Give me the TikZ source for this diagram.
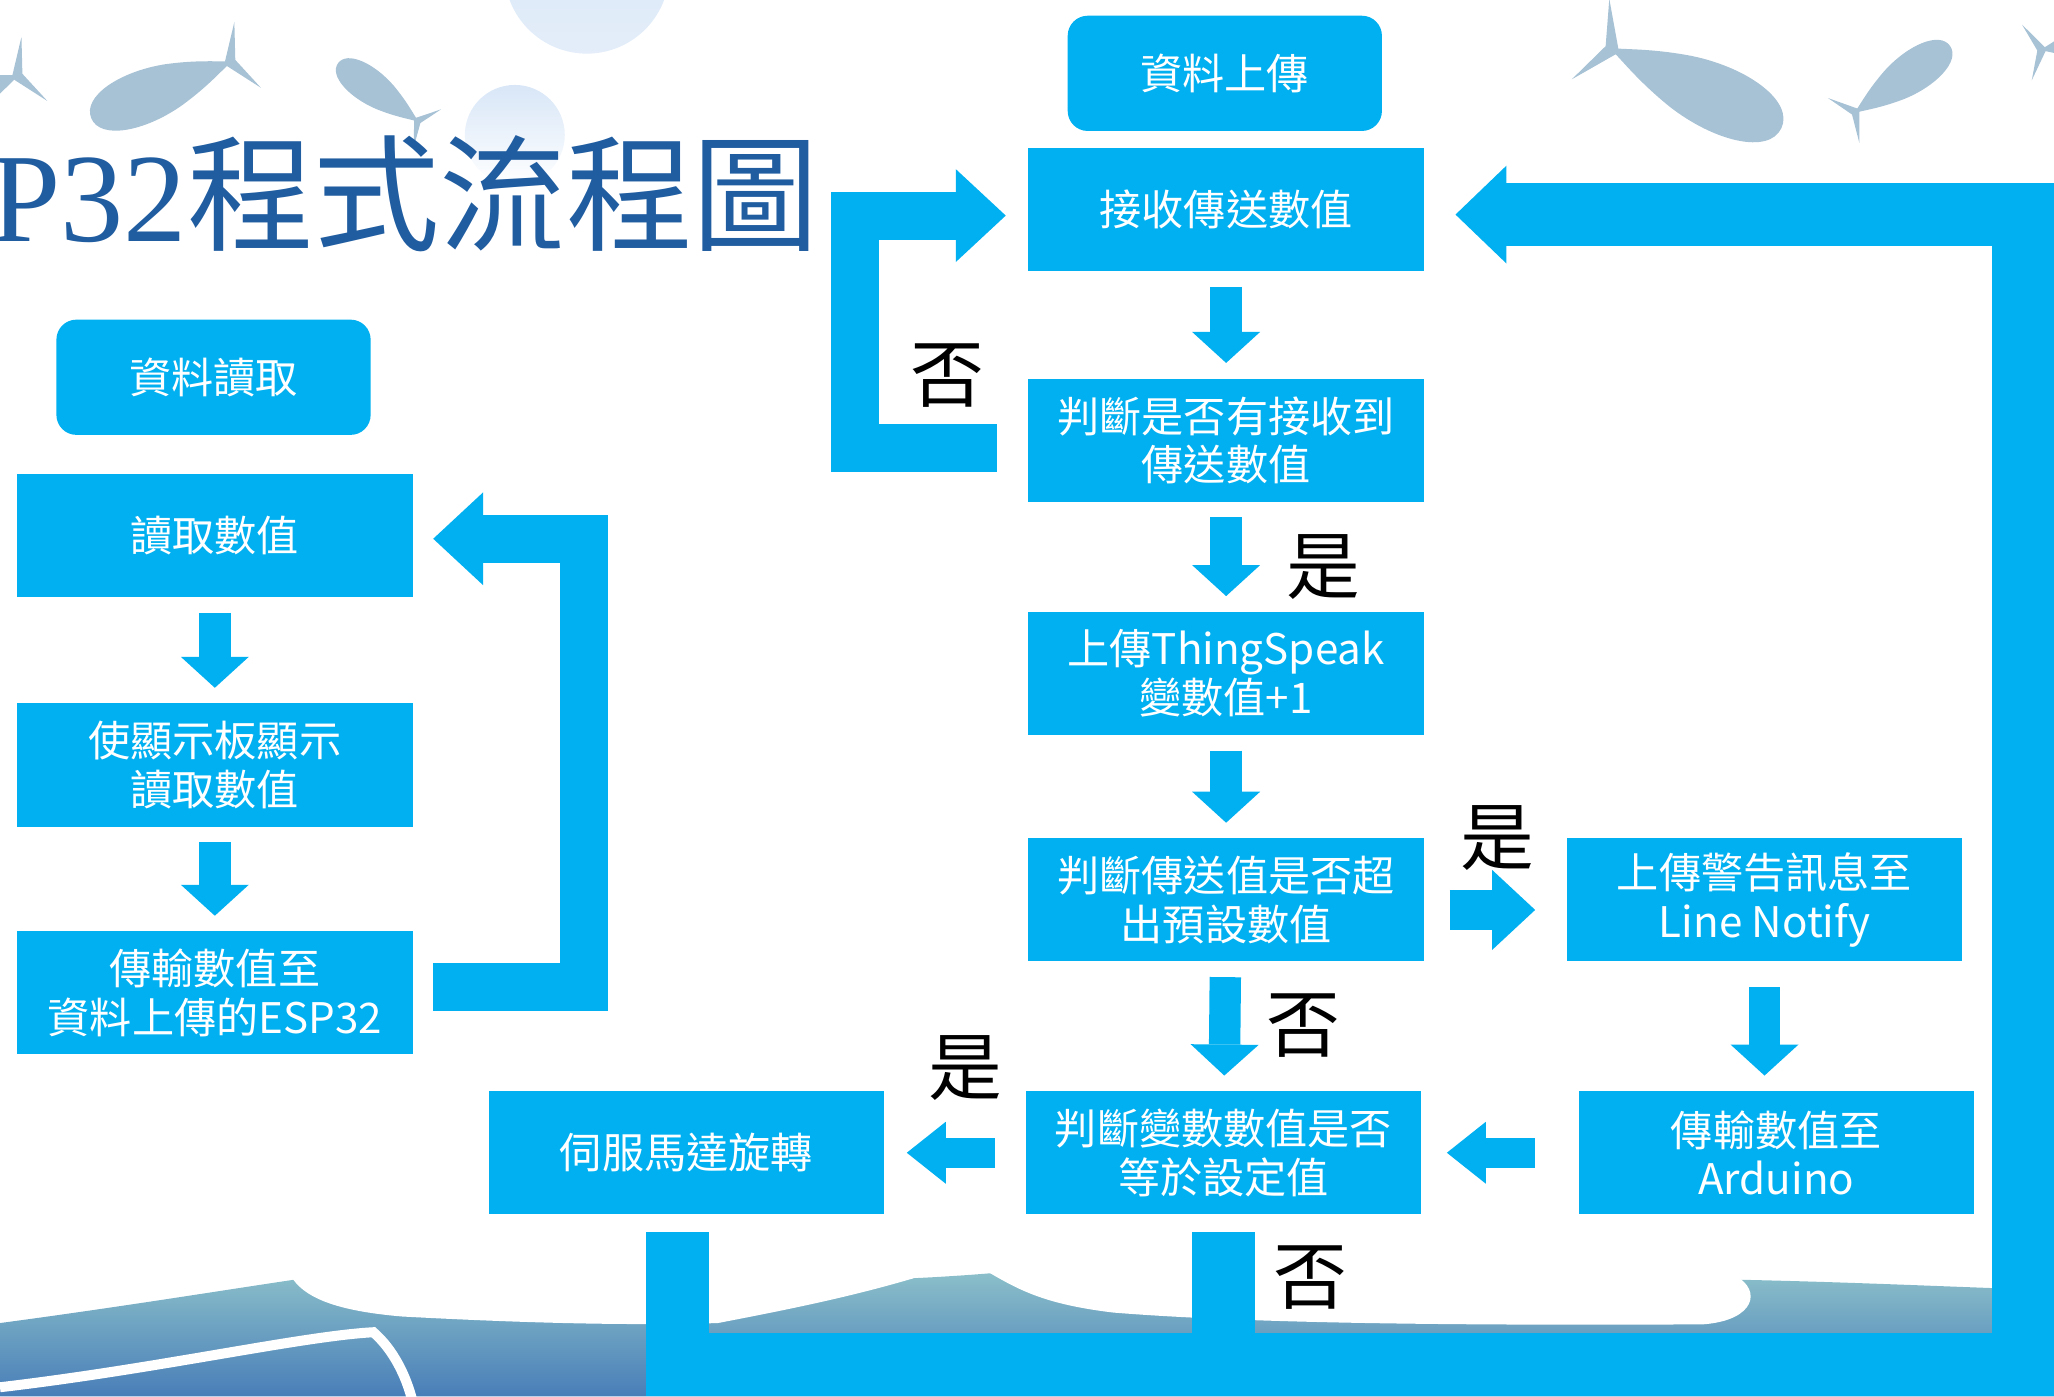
\documentclass[tikz,border=0pt]{standalone}
\usepackage{fontspec}
\setmainfont{Noto Sans CJK TC}
\newfontfamily\titlefont{Liberation Serif}
\usetikzlibrary{arrows.meta}

\definecolor{flowblue}{RGB}{0,176,240}
\definecolor{titleblue}{RGB}{31,92,160}
\definecolor{fishgray}{RGB}{167,194,213}
\definecolor{bubble}{RGB}{216,230,247}
\definecolor{seatop}{RGB}{140,192,202}
\definecolor{seabottom}{RGB}{72,126,184}

\tikzset{
  flowbox/.style={fill=flowblue, text=white, inner sep=0pt, align=center,
    minimum width=3.956cm, minimum height=1.231cm,
    font=\fontsize{12}{13.8}\selectfont},
  headbox/.style={flowbox, rounded corners=0.2cm,
    minimum width=3.144cm, minimum height=1.153cm},
  stepdown/.style={draw=flowblue, line width=0.314cm,
    -{Triangle[length=0.31cm, width=0.68cm, line width=0pt]},
    shorten <=0.15cm, shorten >=0.15cm},
  stepright/.style={draw=flowblue, line width=0.406cm,
    -{Triangle[length=0.43cm, width=0.8cm, line width=0pt]},
    shorten <=0.25cm, shorten >=0.31cm},
  stepleft/.style={draw=flowblue, line width=0.3cm,
    -{Triangle[length=0.39cm, width=0.62cm, line width=0pt]}},
  looparrow/.style={draw=flowblue, line width=0.48cm,
    -{Triangle[length=0.5cm, width=0.93cm, line width=0pt]}},
  bigloop/.style={draw=flowblue, line width=0.63cm},
  fish/.pic={
    \fill[fishgray] (50,0) .. controls (50,16) and (20,22) .. (-10,15)
      .. controls (-30,10) and (-42,4) .. (-50,1) -- (-50,-1)
      .. controls (-42,-4) and (-30,-10) .. (-10,-15)
      .. controls (20,-22) and (50,-16) .. (50,0) -- cycle;
    \fill[fishgray] (-47,0) -- (-64,-24) -- (-55,0) -- (-64,24) -- cycle;
  }
}

\begin{document}
\begin{tikzpicture}[x=0.0131cm, y=-0.0131cm]

  \useasboundingbox (0,0) rectangle (1568,1066);
  \clip (0,0) rectangle (1568,1066);

  % sea and foam along the bottom
  \shade[top color=seatop, bottom color=seabottom]
    (0,1010) .. controls (90,998) and (170,985) .. (224,977)
    .. controls (400,975) and (600,985) .. (756,972)
    .. controls (1000,970) and (1200,975) .. (1331,977)
    .. controls (1420,979) and (1480,982) .. (1568,985)
    -- (1568,1066) -- (0,1066) -- cycle;
  \fill[white] (220,965) -- (224,977) .. controls (235,992) and (260,1001) .. (307,1005)
    .. controls (400,1010) and (480,1012) .. (548,1010)
    .. controls (600,1000) and (650,990) .. (700,975) -- (700,965) -- cycle;
  \fill[white] (756,962) -- (756,972) .. controls (780,986) and (800,996) .. (850,1002)
    .. controls (950,1010) and (1100,1012) .. (1300,1011)
    .. controls (1340,1008) and (1345,985) .. (1325,974) -- (1325,962) -- cycle;
  \draw[white, line width=0.1cm] (0,1059) .. controls (120,1045) and (230,1020) .. (285,1017)
    .. controls (300,1030) and (310,1050) .. (315,1070);

  % bubbles and fish
  \shade[top color=bubble, bottom color=bubble!70!white] (448,-22) circle[radius=0.825cm];
  \shade[top color=bubble, bottom color=white] (393,103) circle[radius=0.5cm];
  \pic[rotate=202, scale=1.1] at (-39,79) {fish};
  \pic[rotate=202, scale=1.13] at (122,69) {fish};
  \pic[rotate=144, scale=0.74] at (288,70) {fish};
  \pic[rotate=-25, scale=1.41] at (1296,68) {fish};
  \pic[rotate=35, scale=0.87] at (1453,60) {fish};
  \pic[rotate=10, scale=0.9] at (1604,30) {fish};

  \node[anchor=west, inner sep=0pt, text=titleblue, font=\fontsize{36}{36}\selectfont]
    (title) at (-8,148) {{\titlefont P32}程式流程圖};

  \begin{scope}[every node/.style={flowbox}]
    \node[headbox] (l0) at (163,288) {資料讀取};
    \node (l1) at (164,409) {讀取數值};
    \node (l2) at (164,584) {使顯示板顯示\\讀取數值};
    \node (l3) at (164,758) {傳輸數值至\\資料上傳的ESP32};

    \node[headbox] (r0) at (935,56) {資料上傳};
    \node (r1) at (936,160) {接收傳送數值};
    \node (r2) at (936,336) {判斷是否有接收到\\傳送數值};
    \node (r3) at (936,514) {上傳ThingSpeak\\變數值+1};
    \node (r4) at (936,687) {判斷傳送值是否超\\出預設數值};
    \node (r5) at (934,880) {判斷變數數值是否\\等於設定值};

    \node (c1) at (1347,687) {上傳警告訊息至\\Line Notify};
    \node (c2) at (1356,880) {傳輸數值至\\Arduino};
    \node (servo) at (524,880) {伺服馬達旋轉};
  \end{scope}

  \coordinate (corner) at (1545,1042);

  \begin{scope}[every edge/.style={stepdown}]
    \path (l1) edge (l2);
    \path (l2) edge (l3);
    \path (r1) edge (r2);
    \path (r2) edge (r3);
    \path (r3) edge (r4);
    \path (r4) edge (r5);
    \path (c1.south) edge[shorten <=0.25cm] (c1.south |- c2.north);
  \end{scope}

  \draw[stepright] ([yshift=-0.1cm]r4.east) -- ([yshift=-0.1cm]c1.west);
  \draw[stepleft, shorten <=0.43cm, shorten >=0.25cm] (c2.west) -- (r5.east);
  \draw[stepleft, shorten <=0.3cm, shorten >=0.22cm] (r5.west) -- (servo.east);

  \draw[looparrow, shorten <=0.2cm, shorten >=0.2cm]
    ([yshift=0.06cm]l3.east) -- ++(130,0) |- ([yshift=-0.03cm]l1.east);
  \draw[looparrow, shorten <=0.31cm, shorten >=0.22cm]
    ([yshift=-0.08cm]r2.west) -- ++(-132,0) |- ([yshift=-0.06cm]r1.west);

  \draw[bigloop, -{Triangle[length=0.51cm, width=0.98cm, line width=0pt]},
    shorten <=0.17cm, shorten >=0.31cm]
    ([xshift=-0.09cm]servo.south) |- (corner) |- ([yshift=-0.05cm]r1.east);
  \draw[bigloop, shorten <=0.17cm] (r5.south) -- (r5.south |- corner);

  \begin{scope}[every node/.style={inner sep=0pt, font=\fontsize{21}{21}\selectfont}]
    \node (no1) at (723,287) {否};
    \node (yes1) at (1010,433) {是};
    \node (yes2) at (1143,640) {是};
    \node (no2) at (995,783) {否};
    \node (yes3) at (737,815) {是};
    \node (no3) at (1000,975) {否};
  \end{scope}

\end{tikzpicture}
\end{document}
